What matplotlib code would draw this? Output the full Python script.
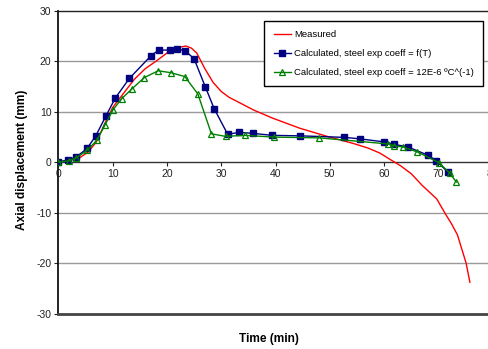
import matplotlib
matplotlib.use("Agg")
import matplotlib.pyplot as plt

plt.rcParams['font.family'] = ['Liberation Sans', 'DejaVu Sans']

# Measured axial displacement (mm) vs time (min)
measured_t = [0, 2, 4, 5.5, 7, 8.5, 10, 12, 14, 16, 18, 20, 22, 23.5, 24.5, 25.5,
              27, 28.5, 30, 31.5, 33.5, 36, 39.5, 44.5, 49.5, 54.3, 57, 59.2, 61,
              63, 65, 67, 69.7, 71.2, 72.4, 73.5, 74.3, 75.1, 75.8]
measured_d = [0, 0.3, 0.9, 2.0, 4.0, 7.5, 10.8, 13.6, 16.4, 18.5, 20.0, 21.6, 22.7,
              23.0, 22.6, 21.6, 18.5, 15.8, 14.0, 12.8, 11.7, 10.3, 8.7, 6.7, 5.1,
              3.7, 2.8, 1.8, 0.6, -0.7, -2.3, -4.6, -7.3, -10.1, -12.2, -14.4,
              -17.2, -20.0, -23.8]

# Calculated, steel expansion coefficient = f(T)
calc_ft_t = [0, 1.8, 3.3, 5.3, 6.9, 8.8, 10.5, 13.1, 17.1, 18.5, 20.6, 21.9, 23.3,
             25.0, 27.1, 28.7, 31.2, 33.3, 35.8, 39.4, 44.6, 52.7, 55.6, 60.0,
             61.9, 64.4, 68.1, 69.6, 71.8]
calc_ft_d = [0, 0.45, 1.0, 2.7, 5.2, 9.2, 12.7, 16.6, 21.1, 22.2, 22.2, 22.4, 22.1,
             20.5, 14.85, 10.6, 5.5, 5.9, 5.7, 5.3, 5.2, 4.9, 4.6, 4.0, 3.5, 3.0,
             1.35, 0.3, -2.05]

# Calculated, steel expansion coefficient = 12E-6 /degC
calc_c_t = [0, 1.9, 3.3, 5.35, 7.1, 8.65, 10.1, 11.7, 13.5, 15.85, 18.4, 20.8, 23.3,
            25.7, 28.2, 30.8, 34.3, 39.8, 48.1, 60.7, 61.8, 63.55, 66.15, 70.1,
            72.1, 73.3]
calc_c_d = [0, 0.26, 0.8, 2.4, 4.3, 7.45, 10.4, 12.6, 14.45, 16.75, 18.1, 17.7,
            16.95, 13.5, 5.6, 5.1, 5.3, 4.95, 4.8, 3.6, 3.25, 2.97, 2.0, -0.1,
            -2.2, -3.96]

x_ticks = [0, 10, 20, 30, 40, 50, 60, 70, 80]
y_ticks = [-30, -20, -10, 0, 10, 20, 30]

W, H = 489, 349
fig = plt.figure(figsize=(W / 100, H / 100), dpi=100)
left, right = 58.3 / W, 492.7 / W
top, bottom = 1 - 10.7 / H, 1 - 313.5 / H
ax = fig.add_axes([left, bottom, right - left, top - bottom])

ax.set_xlim(0, 80)
ax.set_ylim(-30, 30)

for g in [-20, -10, 10, 20]:
    ax.axhline(g, color='#9a9a9a', lw=1.0, zorder=0)

ax.plot(measured_t, measured_d, color='#ff0000', lw=1.0, label='Measured', zorder=3)
ax.plot(calc_ft_t, calc_ft_d, color='#000080', lw=1.0, marker='s', ms=4.2,
        mfc='#000080', mec='#000080', label='Calculated, steel exp coeff = f(T)', zorder=4)
ax.plot(calc_c_t, calc_c_d, color='#008000', lw=1.0, marker='^', ms=4.5,
        mfc='none', mec='#008000', mew=0.9,
        label='Calculated, steel exp coeff = 12E-6 ºC^(-1)', zorder=5)

# Spines: x axis crosses at y = 0
ax.spines['bottom'].set_position(('data', 0))
ax.spines['bottom'].set_color('#333333')
ax.spines['bottom'].set_linewidth(1.0)
ax.spines['left'].set_linewidth(1.3)
ax.spines['left'].set_color('#111111')
ax.spines['top'].set_color('#222222')
ax.spines['top'].set_linewidth(1.0)
ax.spines['right'].set_visible(False)
ax.axhline(-30, color='#444444', lw=2.0, zorder=6, clip_on=False)

ax.set_xticks(x_ticks)
ax.set_yticks(y_ticks)
ax.set_xticklabels([str(v) for v in x_ticks])
ax.set_yticklabels([str(v) for v in y_ticks])
ax.tick_params(axis='both', labelsize=7.5, colors='#222222', length=3, width=0.8)
ax.tick_params(axis='x', pad=2)
ax.tick_params(axis='y', pad=2)

fig.text(268.5 / W, 1 - 339 / H, 'Time (min)', ha='center', va='center',
         fontsize=8.6, fontweight='bold')
fig.text(21.7 / W, 1 - 160 / H, 'Axial displacement (mm)', ha='center', va='center',
         rotation=90, fontsize=8.6, fontweight='bold')

leg = ax.legend(loc='upper left', bbox_to_anchor=(264.3 / W, 1 - 20.7 / H),
                bbox_transform=fig.transFigure, borderaxespad=0, fontsize=6.8,
                frameon=True, fancybox=False, edgecolor='black', framealpha=1,
                handlelength=1.8, handletextpad=0.35, labelspacing=1.05,
                borderpad=1.0)
leg.get_frame().set_linewidth(1.0)

fig.savefig('out.png', dpi=100)
